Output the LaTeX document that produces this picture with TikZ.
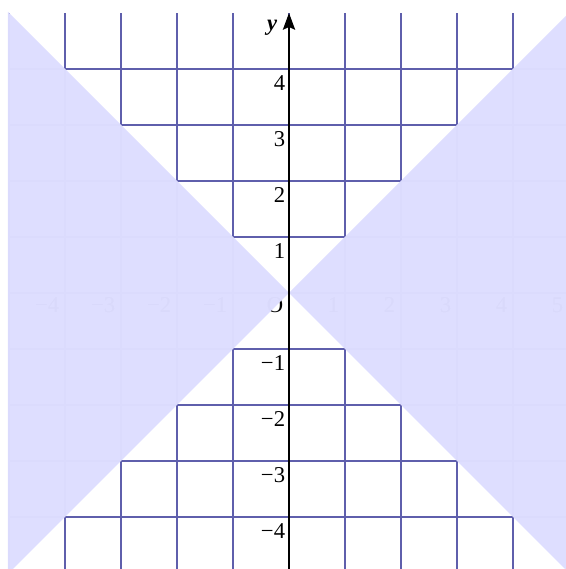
\documentclass[tikz,border=0pt]{standalone}
\usepackage{fontspec}
\setmainfont{Liberation Serif}
\usetikzlibrary{arrows.meta}
\definecolor{gridc}{RGB}{95,95,172}
\definecolor{shadec}{RGB}{221,221,255}
\tikzset{
  gridline/.style={draw=gridc, line width=0.6pt},
  shadearea/.style={fill=shadec, fill opacity=0.985},
  labfont/.style={font=\fontsize{11.5}{12}\selectfont},
  ylab/.style={labfont, anchor=north east, inner xsep=1.8pt, inner ysep=3.3pt},
  xlab/.style={labfont, anchor=north east, inner xsep=2.8pt, inner ysep=2.3pt},
  yaxis/.style={draw=black, line width=0.7pt, -{Stealth[length=3mm,width=2.2mm,inset=0.5mm]}}
}
\begin{document}
\begin{tikzpicture}
\useasboundingbox (-5.161,-4.929) rectangle (4.946,5.232);
\clip (-5.161,-4.929) rectangle (4.946,5.232);
% grid
\foreach \k in {-5,...,5} {
  \draw[gridline] (\k,-5.5) -- (\k,5);
}
\foreach \k in {-5,...,4} {
  \draw[gridline] (-5,\k) -- (5.5,\k);
}
% x labels (under shading)
\foreach \k/\t in {-4/−4,-3/−3,-2/−2,-1/−1,1/1,2/2,3/3,4/4,5/5} {
  \node[xlab] (xl\k) at (\k,0) {\t};
}
\node[xlab] (orig) at (0,0) {O};
% shading
\fill[shadearea] (0,0) -- (-5.02,5.02) -- (-5.02,-5.5) -- (-5.5,-5.5) -- cycle;
\fill[shadearea] (0,0) -- (5.5,5.5) -- (5.5,-5.5) -- cycle;
% y axis
\coordinate (ybot) at (0,-5.5);
\coordinate (ytop) at (0,5.0);
\draw[yaxis] (ybot) -- (ytop);
\node[font=\bfseries\itshape\fontsize{11.5}{12}\selectfont] (ylab) at (-0.30,4.73) {y};
\foreach \k/\t in {-4/−4,-3/−3,-2/−2,-1/−1,1/1,2/2,3/3,4/4} {
  \node[ylab] (yl\k) at (0,\k) {\t};
}
\end{tikzpicture}
\end{document}
